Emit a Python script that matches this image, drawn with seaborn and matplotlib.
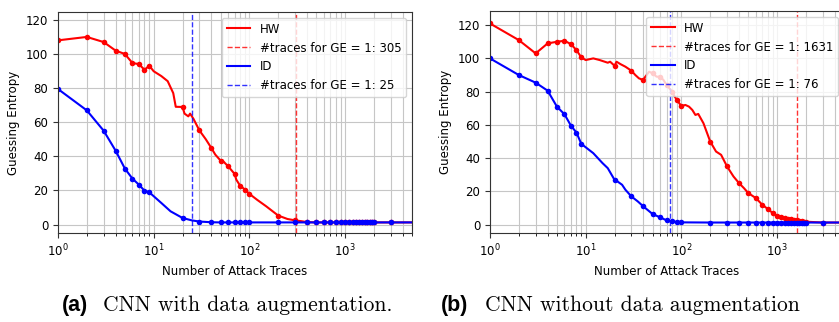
import numpy as np
import matplotlib
matplotlib.use("Agg")
import matplotlib.pyplot as plt
from matplotlib.lines import Line2D
import seaborn as sns

# trace counts where markers are drawn (shared by all curves)
mark_x = [1, 2, 3, 4, 5, 6, 7, 8, 9, 20, 30, 40, 50, 60, 70, 80, 90, 100,
          200, 300, 400, 500, 600, 700, 800, 900, 1000, 1100, 1200, 1300, 1400,
          1500, 1600, 1700, 1800, 1900, 2000, 3000]

tail_x = [500, 600, 700, 800, 900, 1000, 1100, 1200, 1300, 1400, 1500, 1600,
          1700, 1800, 1900, 2000, 3000, 5000]
tail_y = [1.3, 1.3, 1.3, 1.3, 1.3, 1.3, 1.3, 1.3, 1.3, 1.3, 1.3, 1.3,
          1.3, 1.3, 1.3, 1.3, 1.3, 1.3]

# (a) CNN with data augmentation
a_hw_x = [1, 2, 3, 4, 5, 6, 7, 8, 9, 10, 12, 14, 16, 17, 20, 21, 23, 24, 26, 30,
          35, 40, 44, 50, 52, 60, 62, 70, 73, 80, 90, 100, 120, 150, 200, 250,
          300, 350, 400] + tail_x
a_hw_y = [107.9, 109.9, 106.9, 101.9, 99.9, 94.6, 94.0, 90.7, 93.0, 89.8, 87.0,
          84.0, 77.0, 69.0, 68.9, 65.0, 63.4, 65.0, 62.0, 55.2, 50.0, 44.9, 41.0,
          37.5, 37.7, 34.1, 33.2, 29.7, 26.3, 22.8, 20.5, 18.0, 14.6, 10.7, 5.3,
          3.3, 2.5, 2.0, 1.5] + tail_y

a_id_x = [1, 2, 3, 4, 5, 6, 7, 8, 9, 12, 15, 20, 25, 30, 40, 50, 60, 70, 80, 90,
          100, 200, 300, 400] + tail_x
a_id_y = [79.4, 66.9, 55.0, 43.3, 32.8, 26.9, 23.4, 19.9, 18.9, 12.7, 7.8, 3.9,
          2.5, 1.8, 1.4, 1.3, 1.3, 1.3, 1.3, 1.3, 1.3, 1.3, 1.3, 1.3] + tail_y

# (b) CNN without data augmentation
b_hw_x = [1, 2, 3, 4, 5, 6, 7, 8, 9, 10, 12, 14, 17, 18, 20, 21, 23, 26, 30, 33,
          36, 40, 42, 46, 50, 55, 60, 65, 70, 75, 80, 85, 90, 95, 100, 110, 120,
          130, 140, 150, 170, 200, 230, 260, 300, 350, 400, 450, 500, 600, 700,
          800, 900, 1000, 1100, 1200, 1300, 1400, 1500, 1600, 1700, 1800, 1900,
          2000, 3000, 5000]
b_hw_y = [121.0, 111.0, 103.0, 109.0, 110.0, 110.6, 108.6, 105.0, 100.6, 99.0,
          100.0, 99.0, 97.4, 98.0, 95.6, 98.0, 96.6, 95.0, 92.6, 90.0, 88.0, 87.0,
          89.0, 92.0, 91.0, 89.0, 89.0, 87.0, 84.0, 82.0, 80.0, 77.0, 75.0, 73.0,
          71.4, 72.0, 71.0, 69.0, 66.0, 66.6, 61.0, 50.0, 44.0, 42.0, 35.0, 29.0,
          25.0, 22.0, 19.0, 16.0, 12.0, 9.4, 7.0, 5.4, 4.6, 4.0, 3.6, 3.4, 3.0,
          2.6, 2.3, 2.1, 1.9, 1.8, 1.3, 1.3]

b_id_x = [1, 2, 3, 4, 5, 6, 7, 8, 9, 12, 15, 17, 20, 21, 24, 26, 30, 35, 40, 50,
          60, 70, 76, 80, 90, 100, 200, 300, 400] + tail_x
b_id_y = [100.0, 90.0, 85.4, 80.6, 71.0, 66.4, 59.6, 55.4, 48.6, 43.0, 37.0,
          34.0, 27.0, 26.4, 24.0, 21.0, 17.0, 14.0, 11.0, 6.4, 4.4, 2.6, 2.0, 2.0,
          1.6, 1.4, 1.3, 1.3, 1.3] + tail_y

a_ge1 = {"HW": 305, "ID": 25}
b_ge1 = {"HW": 1631, "ID": 76}
captions = ["CNN with data augmentation.", "CNN without data augmentation"]


def draw_curve(ax, x, y, color):
    x = np.array(x)
    idx = list(np.where(np.isin(x, mark_x))[0])
    sns.lineplot(x=x, y=y, ax=ax, color=color, linewidth=1.5, legend=False,
                 marker="o", markersize=4, markeredgewidth=0, markevery=idx)


def draw_panel(ax, hw, idd, ge1, ylim):
    draw_curve(ax, hw[0], hw[1], "red")
    ax.axvline(ge1["HW"], color="red", linestyle="--", linewidth=1, alpha=0.8)
    draw_curve(ax, idd[0], idd[1], "blue")
    ax.axvline(ge1["ID"], color="blue", linestyle="--", linewidth=1, alpha=0.8)
    ax.set_xscale("log")
    ax.set_xlim(1, 5000)
    ax.set_ylim(*ylim)
    ax.set_yticks([0, 20, 40, 60, 80, 100, 120])
    ax.grid(True, which="both", color="#c6c6c6", linewidth=0.8)
    for s in ax.spines.values():
        s.set_color("#333333")
    ax.set_xlabel("Number of Attack Traces", fontsize=8.5)
    ax.set_ylabel("Guessing Entropy", fontsize=8.5)
    ax.tick_params(labelsize=8.5, color="#333333")
    handles = [
        Line2D([], [], color="red", linewidth=1.5),
        Line2D([], [], color="red", linestyle="--", linewidth=1, alpha=0.8),
        Line2D([], [], color="blue", linewidth=1.5),
        Line2D([], [], color="blue", linestyle="--", linewidth=1, alpha=0.8),
    ]
    labels = ["HW", f"#traces for GE = 1: {ge1['HW']}",
              "ID", f"#traces for GE = 1: {ge1['ID']}"]
    ax.legend(handles, labels, loc="upper right", fontsize=8.5)


fig = plt.figure(figsize=(8.39, 3.22), dpi=100)
ax1 = fig.add_axes([58 / 839, 89 / 322, 354 / 839, 221 / 322])
ax2 = fig.add_axes([490 / 839, 89 / 322, 354 / 839, 222 / 322])

draw_panel(ax1, (a_hw_x, a_hw_y), (a_id_x, a_id_y), a_ge1, (-4.9, 124.5))
draw_panel(ax2, (b_hw_x, b_hw_y), (b_id_x, b_id_y), b_ge1, (-5, 128.5))

bold = ["Liberation Sans Narrow", "Liberation Sans"]
fig.text(62 / 839, 0.035, "(a)", fontsize=15.5, fontweight="bold", family=bold)
fig.text(103 / 839, 0.035, captions[0], fontsize=15.5, family="cmr10")
fig.text(441 / 839, 0.035, "(b)", fontsize=15.5, fontweight="bold", family=bold)
fig.text(485 / 839, 0.035, captions[1], fontsize=15.5, family="cmr10")

fig.savefig("out.png", dpi=100)
